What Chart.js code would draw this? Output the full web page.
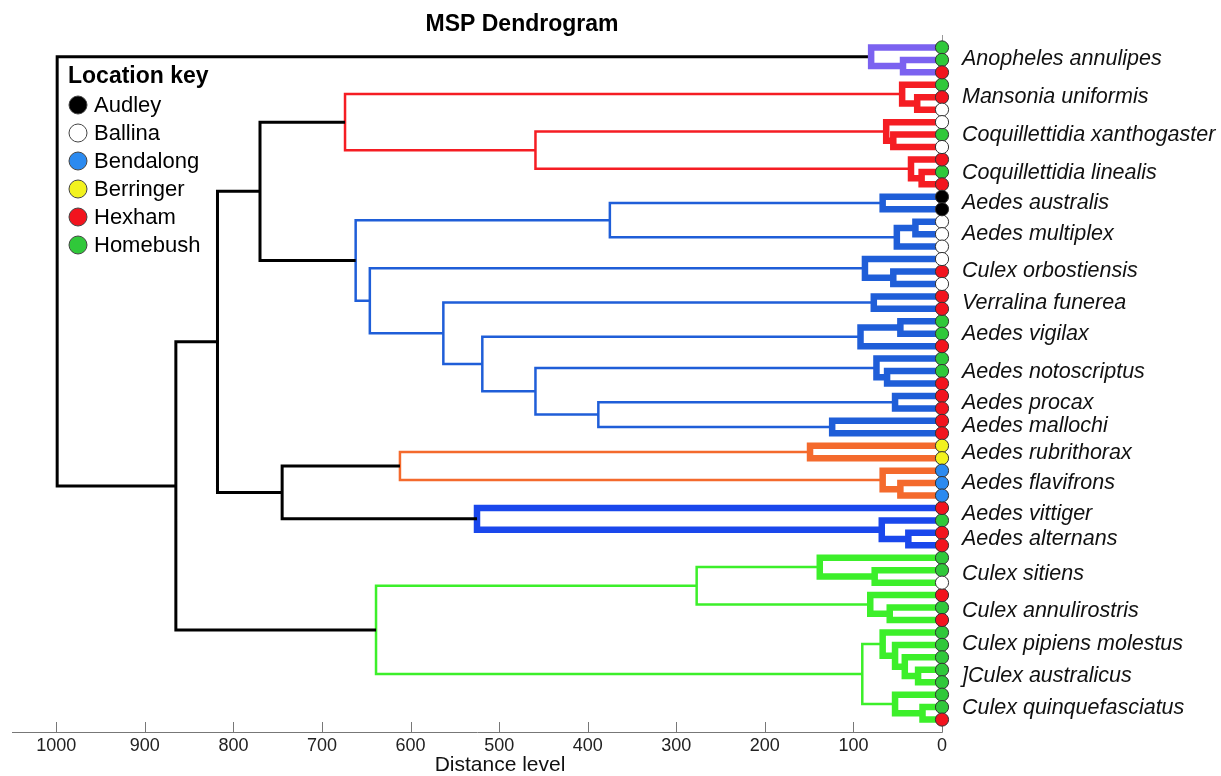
<!DOCTYPE html>
<html>
<head>
<meta charset="utf-8">
<title>MSP Dendrogram</title>
<script src="https://cdn.jsdelivr.net/npm/chart.js@4/dist/chart.umd.min.js"></script>
<style>
  body { margin: 0; background: #fff; }
  canvas { display: block; }
</style>
</head>
<body>
<canvas id="myChart" width="1221" height="776"></canvas>
<script>
//! Datos del dendrograma
var locations = ["Audley", "Ballina", "Bendalong", "Berringer", "Hexham", "Homebush"];

// location of every leaf (index into locations), top to bottom
var leafLoc = [
  5, 5, 4,  5, 4, 1,  1, 5, 1,  4, 5, 4,  0, 0,
  1, 1, 1,  1, 4, 1,  4, 4,  5, 5, 4,  5, 5, 4,
  4, 4,  4, 4,  3, 3,  2, 2, 2,  4,  5, 4, 4,
  5, 5, 1,  4, 5, 4,  5, 5, 5, 5, 5, 5, 5,  4
];

// merges: [node a, node b, distance]; leaves are 0..54, merge k is node 55 + k
var merges = [
  [1, 2, 44], [0, 55, 80],
  [4, 5, 28], [3, 57, 45], [7, 8, 55], [6, 59, 63], [10, 11, 23], [9, 61, 35], [60, 62, 459], [58, 63, 674],
  [12, 13, 67], [14, 15, 30], [66, 16, 51], [65, 67, 375], [18, 19, 55], [17, 69, 87], [20, 21, 77],
  [22, 23, 47], [72, 24, 92], [26, 27, 62], [25, 74, 74], [28, 29, 53], [30, 31, 124], [76, 77, 388],
  [75, 78, 459], [73, 79, 519], [71, 80, 563], [70, 81, 646], [68, 82, 662],
  [64, 83, 770],
  [32, 33, 149], [35, 36, 47], [34, 86, 67], [85, 87, 612],
  [39, 40, 38], [38, 89, 68], [37, 90, 525],
  [88, 91, 745], [84, 92, 818],
  [42, 43, 76], [41, 94, 138], [45, 46, 59], [44, 96, 81], [95, 97, 277],
  [50, 51, 27], [49, 99, 42], [48, 100, 53], [47, 101, 67], [53, 54, 22], [52, 103, 53], [102, 104, 90], [98, 105, 639],
  [93, 106, 865], [56, 107, 999]
];

// clade of each merge
var mergeGroup = [
  "violet", "violet",
  "red", "red", "red", "red", "red", "red", "red", "red",
  "blue", "blue", "blue", "blue", "blue", "blue", "blue", "blue", "blue", "blue",
  "blue", "blue", "blue", "blue", "blue", "blue", "blue", "blue", "blue",
  "black",
  "orange", "orange", "orange", "orange",
  "blue2", "blue2", "blue2",
  "black", "black",
  "green", "green", "green", "green", "green", "green", "green", "green", "green", "green", "green", "green", "green",
  "black", "black"
];

var speciesNames = [
  "Anopheles annulipes", "Mansonia uniformis", "Coquillettidia xanthogaster", "Coquillettidia linealis",
  "Aedes australis", "Aedes multiplex", "Culex orbostiensis", "Verralina funerea", "Aedes vigilax",
  "Aedes notoscriptus", "Aedes procax", "Aedes mallochi", "Aedes rubrithorax", "Aedes flavifrons",
  "Aedes vittiger", "Aedes alternans", "Culex sitiens", "Culex annulirostris", "Culex pipiens molestus",
  "]Culex australicus", "Culex quinquefasciatus"
];
// label position, in leaf units
var speciesPos = [0.9, 4.0, 7.0, 10.1, 12.5, 15.0, 18.0, 20.5, 23.0, 26.1, 28.6, 30.4, 32.6, 35.0, 37.5, 39.5, 42.3, 45.3, 47.9, 50.5, 53.1];

var xTicks = [0, 100, 200, 300, 400, 500, 600, 700, 800, 900, 1000];

//! Estilos
var FONT = '"Liberation Sans", Arial, sans-serif';
var locColors = ["#000000", "#ffffff", "#2b8af0", "#f2f21e", "#f2141e", "#30c83a"];
var groupColors = {
  black: "#000000", violet: "#7b62f0", red: "#f51d23", blue: "#1f5ed8",
  blue2: "#1a47ec", orange: "#f46a2d", green: "#3cef2a"
};
var thinLinks = [8, 9, 13, 23, 24, 25, 26, 27, 28, 33, 43, 50, 51];

//! Posiciones de los nodos
var nLeaves = leafLoc.length;
var nodeY = [];
var nodeH = [];
for (let i = 0; i < nLeaves; i++) {
  nodeY[i] = i;
  nodeH[i] = 0;
}
merges.forEach((m, k) => {
  nodeY[nLeaves + k] = (nodeY[m[0]] + nodeY[m[1]]) / 2;
  nodeH[nLeaves + k] = m[2];
});

//! Lineas del arbol, una serie por color y grosor
var linkSets = {};
merges.forEach((m, k) => {
  var a = m[0], b = m[1], h = m[2];
  var group = mergeGroup[k];
  var key = group == "black" ? "black" : group + (thinLinks.includes(k) ? "-thin" : "-thick");
  if (!linkSets[key]) linkSets[key] = [];
  linkSets[key].push(
    { x: nodeH[a], y: nodeY[a] }, { x: h, y: nodeY[a] },
    { x: h, y: nodeY[b] }, { x: nodeH[b], y: nodeY[b] },
    { x: null, y: null }
  );
});

var datasets = [];
Object.keys(linkSets).forEach((key) => {
  var group = key.split("-")[0];
  var width = key == "black" ? 3 : key.endsWith("thin") ? 2.5 : 6.5;
  datasets.push({
    label: key,
    data: linkSets[key],
    showLine: true,
    borderColor: groupColors[group],
    borderWidth: width,
    borderJoinStyle: "miter",
    borderCapStyle: "butt",
    pointRadius: 0,
    spanGaps: false,
    clip: false,
    order: key.endsWith("thin") ? 3 : 2
  });
});

//! Circulos de cada hoja
locations.forEach((loc, j) => {
  var pts = [];
  leafLoc.forEach((l, i) => { if (l == j) pts.push({ x: 0, y: i }); });
  datasets.push({
    label: loc,
    isLocation: true,
    data: pts,
    backgroundColor: locColors[j],
    pointBackgroundColor: locColors[j],
    pointBorderColor: "#333",
    pointBorderWidth: 1,
    pointRadius: 6.6,
    showLine: false,
    clip: false,
    order: 0
  });
});

//! Titulo, leyenda y marcas del eje
var extras = {
  id: "extras",
  beforeDatasetsDraw(chart) {
    var ctx = chart.ctx;
    var xs = chart.scales.x;
    ctx.save();
    ctx.strokeStyle = "#777";
    ctx.lineWidth = 1;
    xs.ticks.forEach((t) => {
      var px = Math.round(xs.getPixelForValue(t.value)) + 0.5;
      ctx.beginPath();
      ctx.moveTo(px, xs.top);
      ctx.lineTo(px, xs.top - 10);
      ctx.stroke();
    });
    ctx.restore();
  },
  afterDatasetsDraw(chart) {
    var ctx = chart.ctx;
    ctx.save();
    ctx.fillStyle = "#000";
    ctx.textBaseline = "middle";
    ctx.textAlign = "center";
    ctx.font = "bold 23px " + FONT;
    ctx.fillText("MSP Dendrogram", 522, 25);
    ctx.font = "21px " + FONT;
    ctx.fillStyle = "#111";
    ctx.fillText("Distance level", 500, 765);

    ctx.textAlign = "left";
    ctx.fillStyle = "#000";
    ctx.font = "bold 23px " + FONT;
    ctx.fillText("Location key", 68, 77);
    ctx.font = "22px " + FONT;
    chart.data.datasets.filter((d) => d.isLocation).forEach((d, i) => {
      var y = 105 + i * 28;
      ctx.beginPath();
      ctx.arc(78, y, 9, 0, 2 * Math.PI);
      ctx.fillStyle = d.backgroundColor;
      ctx.fill();
      ctx.strokeStyle = "#444";
      ctx.lineWidth = 1;
      ctx.stroke();
      ctx.fillStyle = "#000";
      ctx.fillText(d.label, 94, y + 1);
    });
    ctx.restore();
  }
};

const config = {
  type: "scatter",
  data: { datasets: datasets },
  options: {
    responsive: false,
    animation: false,
    events: [],
    layout: { padding: { left: 12, right: 0, top: 35, bottom: 0 } },
    plugins: {
      legend: { display: false },
      tooltip: { enabled: false },
      title: { display: false }
    },
    scales: {
      x: {
        type: "linear",
        position: "bottom",
        reverse: true,
        min: 0,
        max: 1050,
        afterBuildTicks: (s) => { s.ticks = xTicks.map((v) => ({ value: v })); },
        afterFit: (s) => { s.height = 44; },
        grid: { display: false, drawTicks: false },
        border: { display: true, color: "#777", width: 1 },
        ticks: {
          padding: 5,
          color: "#222",
          font: { size: 18, family: FONT, lineHeight: 1 },
          callback: (v) => String(v)
        }
      },
      y: {
        type: "linear",
        position: "right",
        reverse: true,
        min: -1,
        max: 55,
        afterBuildTicks: (s) => { s.ticks = speciesPos.map((v) => ({ value: v })); },
        afterFit: (s) => { s.width = 279; },
        grid: { display: false, drawTicks: false },
        border: { display: true, color: "#999", width: 1 },
        ticks: {
          autoSkip: false,
          padding: 20,
          color: "#111",
          font: { size: 21.5, style: "italic", family: FONT },
          callback: (v, i) => speciesNames[i]
        }
      }
    }
  },
  plugins: [extras]
};

const myChart = new Chart(document.getElementById("myChart"), config);
</script>
</body>
</html>
